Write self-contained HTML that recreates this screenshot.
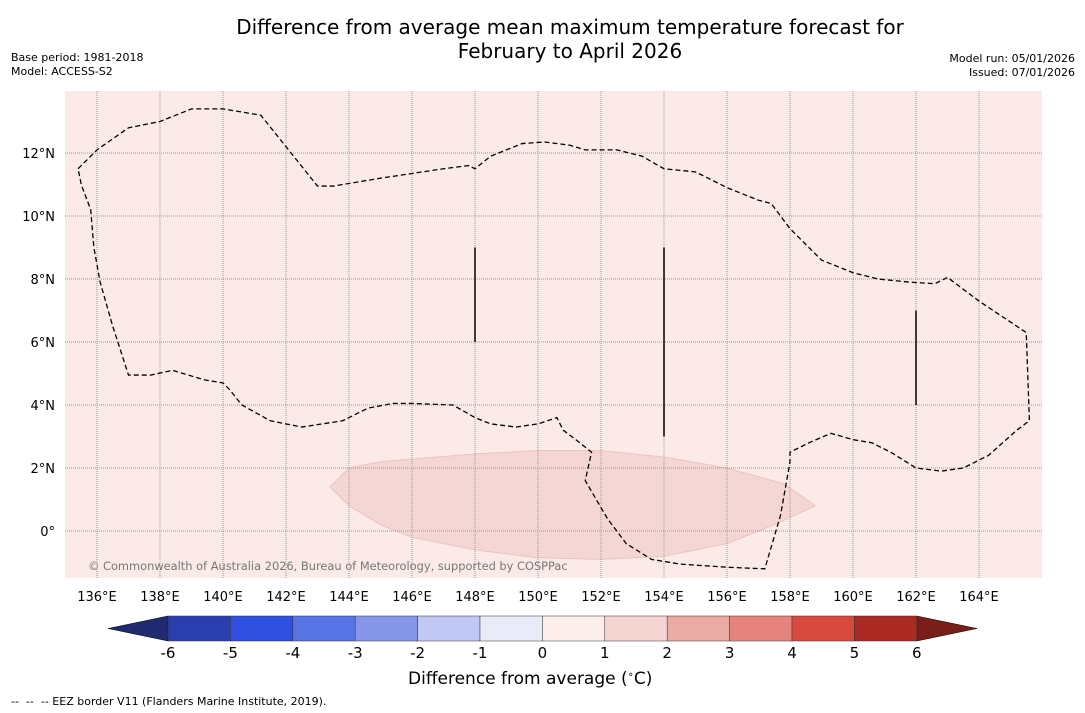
<!DOCTYPE html>
<html><head><meta charset="utf-8"><style>
body{margin:0;width:1085px;height:713px;background:#fff;font-family:"DejaVu Sans","Liberation Sans",sans-serif;overflow:hidden;position:relative}
.t{position:absolute;white-space:nowrap}
svg text{font-family:"DejaVu Sans","Liberation Sans",sans-serif}
</style></head><body>
<div class="t" style="left:0;width:1140px;text-align:center;top:15px;font-size:20px;line-height:24px">Difference from average mean maximum temperature forecast for<br>February to April 2026</div>
<div class="t" style="left:11px;top:51px;font-size:11px;line-height:14px">Base period: 1981-2018<br>Model: ACCESS-S2</div>
<div class="t" style="right:10px;top:52px;font-size:11px;line-height:14px;text-align:right">Model run: 05/01/2026<br>Issued: 07/01/2026</div>
<svg id="map" width="1085" height="713" style="position:absolute;left:0;top:0"></svg>
<div class="t" style="left:408px;top:669px;font-size:17px">Difference from average (<sup style="font-size:10px">∘</sup>C)</div>
<div class="t" style="left:11px;top:695px;font-size:11px">--&nbsp; --&nbsp; -- EEZ border V11 (Flanders Marine Institute, 2019).</div>
<script>
const lonTicks=[136,138,140,142,144,146,148,150,152,154,156,158,160,162,164];
const latTicks=[0,2,4,6,8,10,12];
const cbTicks=[-6,-5,-4,-3,-2,-1,0,1,2,3,4,5,6];
const cbColors=["#2a3fad","#2f50e0","#5873e4","#8697ea","#c1c8f3","#e9ebf8","#fdefed","#f4d5d2","#ebaba5","#e4847d","#d84a40","#ab2a24"];
const anomaly=[[143.4,1.4],[144,2],[145,2.2],[148,2.45],[150,2.55],[152,2.55],[154,2.35],[156,2],[157.8,1.5],[158.8,0.8],[157.5,0.2],[156,-0.4],[154,-0.8],[152,-0.9],[150,-0.85],[148,-0.6],[146,-0.2],[145,0.2],[144,0.8]];
const eez=[[135.4,11.5],[136,12.1],[137,12.8],[138,13],[139,13.4],[140,13.4],[141.2,13.2],[142,12.2],[143,10.95],[143.5,10.95],[145,11.2],[147,11.5],[147.8,11.6],[148,11.5],[148.5,11.9],[149.5,12.3],[150.2,12.35],[151,12.25],[151.5,12.1],[152.5,12.1],[153.3,11.9],[154,11.5],[155,11.4],[156,10.9],[157,10.5],[157.4,10.4],[158,9.6],[159,8.6],[160,8.2],[160.8,8],[161.8,7.9],[162.6,7.85],[163,8.05],[164,7.3],[165.5,6.3],[165.6,3.5],[165.2,3.2],[164.3,2.4],[163.5,2],[162.8,1.9],[162,2],[161.2,2.5],[160.6,2.8],[160,2.9],[159.3,3.1],[158.6,2.8],[158,2.5],[158,2.2],[157.7,0.5],[157.2,-1.2],[156,-1.15],[154.5,-1.05],[153.6,-0.9],[152.8,-0.4],[152.2,0.4],[151.5,1.6],[151.7,2.5],[151.2,2.9],[150.8,3.2],[150.6,3.6],[150,3.4],[149.3,3.3],[148.5,3.4],[148,3.6],[147.3,4.0],[146,4.05],[145.4,4.05],[144.6,3.9],[143.8,3.5],[142.5,3.3],[141.5,3.5],[140.6,4.0],[140.2,4.5],[140,4.7],[139.4,4.8],[138.4,5.1],[137.7,4.95],[137,4.95],[136.5,6.5],[136.1,7.9],[135.9,9],[135.8,10.2],[135.5,11]];
const bars=[[148,6,9],[154,3,9],[162,4,7]];
const NS="http://www.w3.org/2000/svg";
const svg=document.getElementById('map');
const L=65,R=1042,T=91,B=578;
const x=lon=>97+(lon-136)*31.5;
const y=lat=>531-lat*31.5;
function mk(tag,a,parent){const e=document.createElementNS(NS,tag);for(const k in a)e.setAttribute(k,a[k]);(parent||svg).appendChild(e);return e;}
const bg=mk('rect',{x:L,y:T,width:R-L,height:B-T,fill:'#fbeae8'});


const an=mk('polygon',{points:anomaly.map(p=>x(p[0])+','+y(p[1])).join(' '),fill:'#f4d6d4',stroke:'#e8c4c1','stroke-width':1});


lonTicks.forEach(v=>{const g=mk('line',{x1:x(v),x2:x(v),y1:T,y2:B,stroke:'#999','stroke-width':1,'stroke-dasharray':'1,1'});


const t=mk('text',{x:x(v),y:B+23,'font-size':13,'text-anchor':'middle'});t.textContent=v+'°E';

});
latTicks.forEach(v=>{const g=mk('line',{x1:L,x2:R,y1:y(v),y2:y(v),stroke:'#999','stroke-width':1,'stroke-dasharray':'1,1'});


const t=mk('text',{x:L-10,y:y(v)+5,'font-size':13,'text-anchor':'end'});t.textContent=(v===0?'0°':v+'°N');

});
const ez=mk('polygon',{points:eez.map(p=>x(p[0])+','+y(p[1])).join(' '),fill:'none',stroke:'#000','stroke-width':1.3,'stroke-dasharray':'5,3'});


bars.forEach(b=>{const l=mk('line',{x1:x(b[0]),x2:x(b[0]),y1:y(b[2]),y2:y(b[1]),stroke:'#000','stroke-width':1.5});

});
const cp=mk('text',{x:88,y:570,'font-size':11.4,fill:'#777'});cp.textContent='© Commonwealth of Australia 2026, Bureau of Meteorology, supported by COSPPac';


const c0=168,cw=62.4,cy=616,ch=25;
const cx=v=>c0+(v+6)*cw;
const lt=mk('polygon',{points:`108,${cy+ch/2} ${c0},${cy} ${c0},${cy+ch}`,fill:'#1f2a70',stroke:'#000','stroke-width':0.5});


const rt=mk('polygon',{points:`977,${cy+ch/2} ${cx(6)},${cy} ${cx(6)},${cy+ch}`,fill:'#7a1e1a',stroke:'#000','stroke-width':0.5});


cbColors.forEach((c,i)=>{const r=mk('rect',{x:cx(cbTicks[i]),y:cy,width:cw,height:ch,fill:c,stroke:'#333','stroke-width':0.5});

});
cbTicks.forEach(v=>{const t=mk('text',{x:cx(v),y:658,'font-size':15,'text-anchor':'middle'});t.textContent=v;

});
</script>
</body></html>
